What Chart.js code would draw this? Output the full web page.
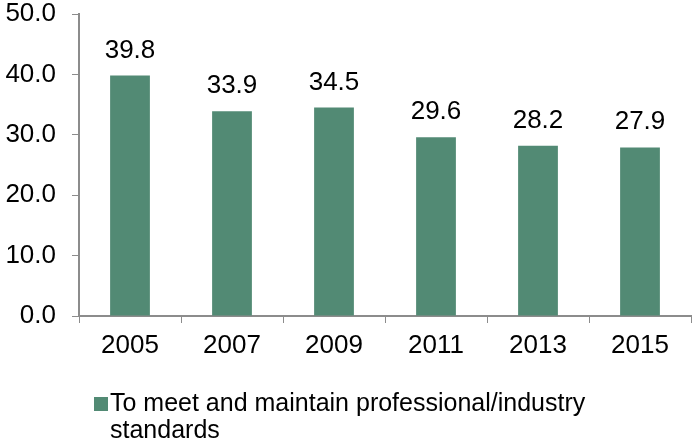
<!DOCTYPE html>
<html lang="en">
<head>
  <meta charset="UTF-8">
  <title>Professional standards</title>
  <script src="https://cdn.jsdelivr.net/npm/chart.js"></script>
  <style>
    html, body {
      margin: 0;
      padding: 0;
      background: #ffffff;
    }
    #wrap {
      position: relative;
      width: 695px;
      height: 442px;
    }
  </style>
</head>
<body>
  <div id="wrap">
    <canvas id="chart" width="695" height="442"></canvas>
  </div>

  <script>
    const years = ["2005", "2007", "2009", "2011", "2013", "2015"];
    const shares = [39.8, 33.9, 34.5, 29.6, 28.2, 27.9];
    const seriesName = ["To meet and maintain professional/industry", "standards"];
    const yTicks = [0, 10, 20, 30, 40, 50];

    const BAR_COLOR = "#528a74";
    const AXIS_COLOR = "#8c8c8c";
    const FONT = "Liberation Sans, Arial, sans-serif";
    const FONT_SIZE = 26;
    const LEGEND_SIZE = 25;

    // value labels above each bar
    const valueLabels = {
      id: "valueLabels",
      afterDatasetsDraw(chart) {
        const ctx = chart.ctx;
        const meta = chart.getDatasetMeta(0);
        ctx.save();
        ctx.font = `${FONT_SIZE}px ${FONT}`;
        ctx.fillStyle = "#000";
        ctx.textAlign = "center";
        ctx.textBaseline = "alphabetic";
        meta.data.forEach((bar, i) => {
          ctx.fillText(shares[i].toFixed(1), bar.x, bar.y - 18);
        });
        ctx.restore();
      }
    };

    // legend under the axis, wrapped on two lines
    const bottomLegend = {
      id: "bottomLegend",
      afterDraw(chart) {
        const ctx = chart.ctx;
        ctx.save();
        ctx.fillStyle = BAR_COLOR;
        ctx.fillRect(94, 397, 14, 14);
        ctx.fillStyle = "#000";
        ctx.font = `${LEGEND_SIZE}px ${FONT}`;
        ctx.textAlign = "left";
        ctx.textBaseline = "alphabetic";
        seriesName.forEach((line, i) => {
          ctx.fillText(line, 110, 411 + i * 27);
        });
        ctx.restore();
      }
    };

    new Chart(document.getElementById("chart"), {
      type: "bar",
      data: {
        labels: years,
        datasets: [{
          label: seriesName.join(" "),
          data: shares,
          backgroundColor: BAR_COLOR,
          borderWidth: 0,
          categoryPercentage: 1,
          barPercentage: 0.39
        }]
      },
      options: {
        responsive: false,
        animation: false,
        events: [],
        layout: {
          padding: { top: 14, right: 4, left: 0, bottom: 0 }
        },
        plugins: {
          legend: { display: false },
          tooltip: { enabled: false }
        },
        scales: {
          x: {
            grid: {
              drawOnChartArea: false,
              drawTicks: true,
              tickLength: 7,
              color: AXIS_COLOR,
              offset: true
            },
            border: { color: AXIS_COLOR, width: 2 },
            ticks: {
              color: "#000",
              font: { family: FONT, size: FONT_SIZE },
              padding: 7
            },
            afterFit(scale) {
              scale.height = 126;
            }
          },
          y: {
            min: 0,
            max: 50,
            afterBuildTicks(scale) {
              scale.ticks = yTicks.map(v => ({ value: v }));
            },
            grid: {
              drawOnChartArea: false,
              drawTicks: true,
              tickLength: 7,
              color: AXIS_COLOR
            },
            border: { color: AXIS_COLOR, width: 2 },
            ticks: {
              color: "#000",
              font: { family: FONT, size: FONT_SIZE },
              padding: 16,
              callback: v => v.toFixed(1)
            },
            afterFit(scale) {
              scale.width = 79;
              // the top label may overhang the plot edge
              scale.paddingTop = 0;
              scale.paddingBottom = 0;
            }
          }
        }
      },
      plugins: [valueLabels, bottomLegend]
    });
  </script>
</body>
</html>
